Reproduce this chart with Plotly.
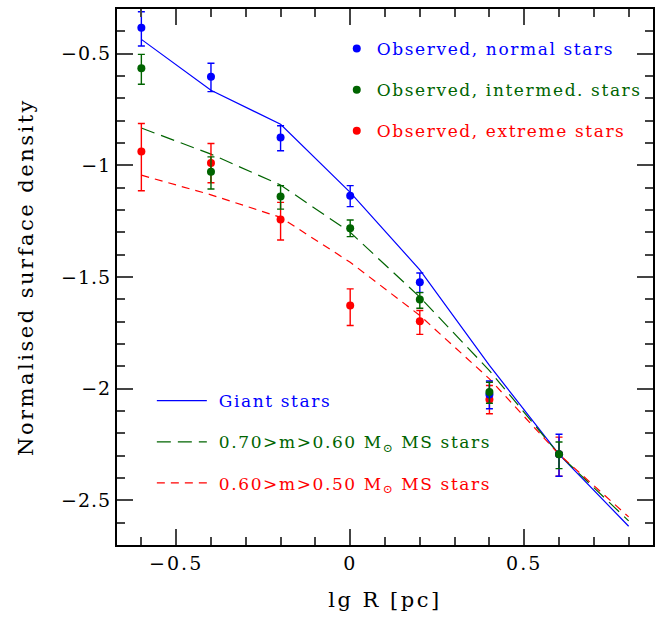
import plotly.graph_objects as go

# ---- data ----
x_obs = [-0.6, -0.4, -0.2, 0.0, 0.2, 0.4, 0.6]

normal_y = [-0.384, -0.603, -0.875, -1.136, -1.524, -2.026, -2.294]
normal_ep = [0.072, 0.060, 0.052, 0.045, 0.042, 0.060, 0.090]
normal_em = [0.082, 0.067, 0.060, 0.049, 0.045, 0.064, 0.098]

interm_y = [-0.565, -1.029, -1.139, -1.282, -1.601, -2.015, -2.294]
interm_ep = [0.062, 0.067, 0.048, 0.037, 0.031, 0.044, 0.055]
interm_em = [0.072, 0.077, 0.057, 0.037, 0.039, 0.050, 0.064]

extreme_y = [-0.938, -0.990, -1.243, -1.628, -1.698, -2.048, -2.294]
extreme_ep = [0.125, 0.088, 0.077, 0.075, 0.048, 0.062, 0.077]
extreme_em = [0.176, 0.088, 0.091, 0.089, 0.059, 0.064, 0.098]

x_model = [-0.6, -0.4, -0.2, 0.0, 0.2, 0.4, 0.6, 0.8]
giant_y = [-0.436, -0.664, -0.816, -1.121, -1.468, -1.896, -2.294, -2.616]
ms70_y = [-0.833, -0.950, -1.088, -1.300, -1.590, -1.919, -2.294, -2.592]
ms60_y = [-1.044, -1.132, -1.233, -1.434, -1.672, -1.956, -2.294, -2.574]

x_ticks = [-0.5, 0, 0.5]
x_ticklabels = ["−0.5", "0", "0.5"]
y_ticks = [-2.5, -2, -1.5, -1, -0.5]
y_ticklabels = ["−2.5", "−2", "−1.5", "−1", "−0.5"]

BLUE = "#0000ff"
GREEN = "#006400"
RED = "#ff0000"
FONT = "DejaVu Serif"
LS = "letter-spacing:1.6px"
PAD = "\u00a0"


def txt(s, color=None, ls=LS):
    st = ls
    if color:
        st = f"color:{color};" + ls
    return f"<span style='{st}'>{s}</span>"


fig = go.Figure()

fig.add_trace(go.Scatter(
    x=x_model, y=giant_y, mode="lines",
    line=dict(color=BLUE, width=1.2),
    name=txt(PAD + "Giant stars", BLUE),
    legend="legend2", legendgroup="g1"))
fig.add_trace(go.Scatter(
    x=x_model, y=ms70_y, mode="lines",
    line=dict(color=GREEN, width=1.2, dash="14px,7px"),
    name=txt(PAD + "0.70>m>0.60 M<sub>⊙</sub> MS stars", GREEN),
    legend="legend2", legendgroup="g2"))
fig.add_trace(go.Scatter(
    x=x_model, y=ms60_y, mode="lines",
    line=dict(color=RED, width=1.2, dash="8px,6px"),
    name=txt(PAD + "0.60>m>0.50 M<sub>⊙</sub> MS stars", RED),
    legend="legend2", legendgroup="g3"))

for yv, ep, em, col, nm, rank in [
    (extreme_y, extreme_ep, extreme_em, RED, "Observed, extreme stars", 3),
    (normal_y, normal_ep, normal_em, BLUE, "Observed, normal stars", 1),
    (interm_y, interm_ep, interm_em, GREEN, "Observed, intermed. stars", 2),
]:
    fig.add_trace(go.Scatter(
        x=x_obs, y=yv, mode="markers",
        marker=dict(color=col, size=8),
        error_y=dict(type="data", symmetric=False, array=ep, arrayminus=em,
                     color=col, thickness=1.4, width=3.5),
        name=txt(nm, col),
        legend="legend", legendgroup=f"o{rank}", legendrank=rank))

axis_common = dict(
    showline=True, linewidth=2, linecolor="black", mirror="ticks",
    ticks="inside", ticklen=16, tickwidth=2, tickcolor="#444",
    showgrid=False, zeroline=False,
    tickfont=dict(family=FONT, size=19, color="black"),
    minor=dict(ticks="inside", ticklen=8, tickwidth=2, tickcolor="#444", dtick=0.1, showgrid=False),
)

fig.update_xaxes(range=[-0.67, 0.87], tickvals=x_ticks,
                 ticktext=[txt(t, ls="letter-spacing:2px") for t in x_ticklabels],
                 title=dict(text=txt("lg R [pc]", ls="letter-spacing:2.5px"),
                            font=dict(family=FONT, size=21, color="black"), standoff=20),
                 **axis_common)
fig.update_yaxes(range=[-2.7, -0.3], tickvals=y_ticks,
                 ticktext=[txt(t, ls="letter-spacing:1px") for t in y_ticklabels],
                 title=dict(text=txt("Normalised surface density", ls="letter-spacing:2.5px"),
                            font=dict(family=FONT, size=21, color="black"), standoff=22),
                 **axis_common)

fig.update_layout(
    width=663, height=617,
    margin=dict(l=117, r=10, t=7, b=72),
    plot_bgcolor="white", paper_bgcolor="white",
    font=dict(family=FONT, size=17, color="black"),
    legend=dict(x=0.41, y=0.959, xanchor="left", yanchor="top",
                bgcolor="rgba(0,0,0,0)", tracegroupgap=16,
                font=dict(family=FONT, size=17)),
    legend2=dict(x=0.065, y=0.302, xanchor="left", yanchor="top",
                 bgcolor="rgba(0,0,0,0)", tracegroupgap=16, itemwidth=50,
                 font=dict(family=FONT, size=17)),
)

fig.write_html("out.html")
